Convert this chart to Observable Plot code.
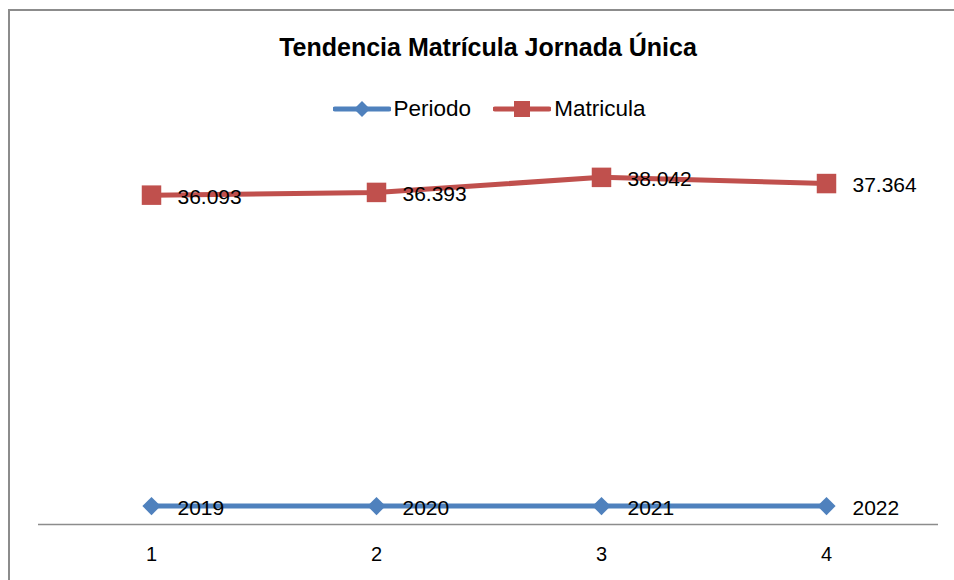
<!DOCTYPE html>
<html>
<head>
<meta charset="utf-8">
<script src="https://cdn.jsdelivr.net/npm/d3@7"></script>
<script src="https://cdn.jsdelivr.net/npm/@observablehq/plot@0.6"></script>
<style>
  html, body { margin: 0; padding: 0; background: #fff; overflow: hidden; }
  #wrap { position: relative; width: 954px; height: 580px; overflow: hidden; font-family: "Liberation Sans", Arial, sans-serif; }
  #frame { position: absolute; left: 8px; top: 9px; right: 0; bottom: 0; border-top: 2px solid #8c8c8c; border-left: 2px solid #8c8c8c; box-sizing: border-box; }
  #title { position: absolute; top: 33px; left: 0; width: 976px; text-align: center; font-weight: bold; font-size: 25px; color: #000; }
  #legend { position: absolute; top: 96px; left: 0; width: 978px; display: flex; justify-content: center; align-items: center; font-size: 22.5px; color: #000; }
  .item { display: flex; align-items: center; margin: 0 11px; }
  .item svg { margin-right: 3px; }
  #chart { position: absolute; left: 0; top: 140px; }
</style>
</head>
<body>
<div id="wrap">
  <div id="frame"></div>
  <div id="title">Tendencia Matrícula Jornada Única</div>
  <div id="legend"></div>
  <div id="chart"></div>
</div>
<script>
const categorias = [1, 2, 3, 4];
const periodo = [2019, 2020, 2021, 2022];
const matricula = [36093, 36393, 38042, 37364];
const series = ["Periodo", "Matricula"];
const colores = ["#4F81BD", "#C0504D"];

const fmt = d3.formatLocale({decimal: ",", thousands: ".", grouping: [3], currency: ["$", ""]}).format(",d");

const rows = [];
categorias.forEach((c, i) => {
  rows.push({serie: "Periodo", x: c, y: periodo[i], label: String(periodo[i])});
  rows.push({serie: "Matricula", x: c, y: matricula[i], label: fmt(matricula[i])});
});
const per = rows.filter(d => d.serie === "Periodo");
const mat = rows.filter(d => d.serie === "Matricula");

// legend
const legend = document.getElementById("legend");
series.forEach((s, i) => {
  const item = document.createElement("div");
  item.className = "item";
  const marker = i === 0
    ? `<polygon points="29,2 37,10 29,18 21,10" fill="${colores[i]}"/>`
    : `<rect x="21" y="2" width="16" height="16" fill="${colores[i]}"/>`;
  item.innerHTML = `<svg width="58" height="20"><line x1="2" x2="56" y1="10" y2="10" stroke="${colores[i]}" stroke-width="5" stroke-linecap="round"/>${marker}</svg><span>${s}</span>`;
  legend.appendChild(item);
});

const chart = Plot.plot({
  width: 954,
  height: 440,
  marginLeft: 38,
  marginRight: 16,
  marginTop: 19,
  marginBottom: 56,
  style: {fontFamily: "Liberation Sans, Arial, sans-serif", fontSize: "20px", background: "transparent", color: "#000"},
  x: {type: "point", domain: categorias, padding: 0.5, label: null},
  y: {domain: [0, 40000], axis: null},
  marks: [
    Plot.ruleY([0], {stroke: "#8c8c8c", strokeWidth: 1.5}),
    Plot.axisX({tickSize: 0, tickPadding: 22, fontSize: 20, label: null, tickFormat: d => String(d)}),
    Plot.line(per, {x: "x", y: "y", stroke: colores[0], strokeWidth: 5}),
    Plot.line(mat, {x: "x", y: "y", stroke: colores[1], strokeWidth: 5}),
    Plot.dot(per, {x: "x", y: "y", symbol: "diamond2", r: 8.2, fill: colores[0], stroke: "none"}),
    Plot.dot(mat, {x: "x", y: "y", symbol: "square", r: 11, fill: colores[1], stroke: "none"}),
    Plot.text(rows, {x: "x", y: "y", text: "label", textAnchor: "start", dx: 26, dy: 2, fontSize: 21, fill: "#000"})
  ]
});
document.getElementById("chart").appendChild(chart);
</script>
</body>
</html>
